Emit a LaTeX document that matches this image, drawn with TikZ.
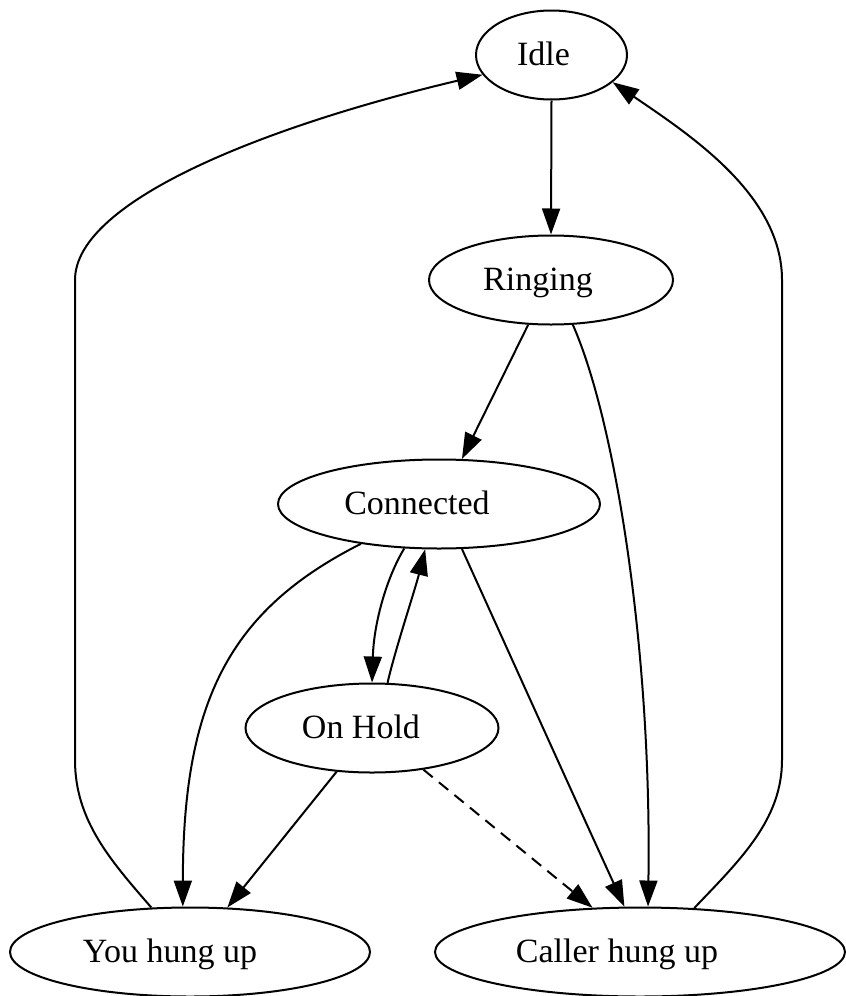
\documentclass[tikz,border=0pt]{standalone}
\usepackage{fontspec}
\setmainfont{Liberation Serif}
\usetikzlibrary{arrows.meta,shapes.geometric}
\newcommand{\shtext}[2]{\makebox[0pt]{\kern-#1\relax #2}}
\begin{document}
\begin{tikzpicture}[x=1pt,y=-1pt,
  state/.style={ellipse, draw, line width=2pt, inner sep=0pt, minimum height=89pt,
    text height=21pt, text depth=0pt, font=\fontsize{34pt}{40pt}\selectfont},
  edge/.style={line width=2pt, -{Triangle[length=26pt,width=18pt]}},
  dashededge/.style={edge, dash pattern=on 12pt off 8pt}]
\useasboundingbox (0,0) rectangle (846,996);
\node[state, minimum width=151pt] (idle) at (551.5,55) {\shtext{16pt}{Idle}};
\node[state, minimum width=244pt] (ring) at (551,280) {\shtext{26pt}{Ringing}};
\node[state, minimum width=322pt] (conn) at (439,504) {\shtext{44pt}{Connected}};
\node[state, minimum width=253pt] (hold) at (372,728) {\shtext{22pt}{On Hold}};
\node[state, minimum width=360pt] (you) at (190,952) {\shtext{40pt}{You hung up}};
\node[state, minimum width=410pt] (caller) at (640,952) {\shtext{46pt}{Caller hung up}};

\draw[edge] (idle.270) -- (ring.90);
\draw[edge] (ring.243) -- (conn.63);
\draw[edge] (ring.296) .. controls (615,420) and (652,650) .. (caller.80);
\draw[edge] (conn.207) .. controls (230,610) and (183,700) .. (you.99);
\draw[edge] (conn.232) .. controls (388,575) and (374,620) .. (hold.90);
\draw[edge] (hold.71) .. controls (395,650) and (415,590) .. (conn.253);
\draw[edge] (conn.297) .. controls (516,668) and (570,788) .. (caller.109);
\draw[edge] (hold.231) -- (you.50);
\draw[dashededge] (hold.321) -- (caller.137);
\draw[edge] (you.131) .. controls (110,860) and (75,820) .. (75,760) -- (75,280)
  .. controls (75,200) and (270,125) .. (idle.196);
\draw[edge] (caller.39) .. controls (740,860) and (782,820) .. (782,760) -- (782,280)
  .. controls (782,195) and (690,135) .. (idle.336);
\end{tikzpicture}
\end{document}
